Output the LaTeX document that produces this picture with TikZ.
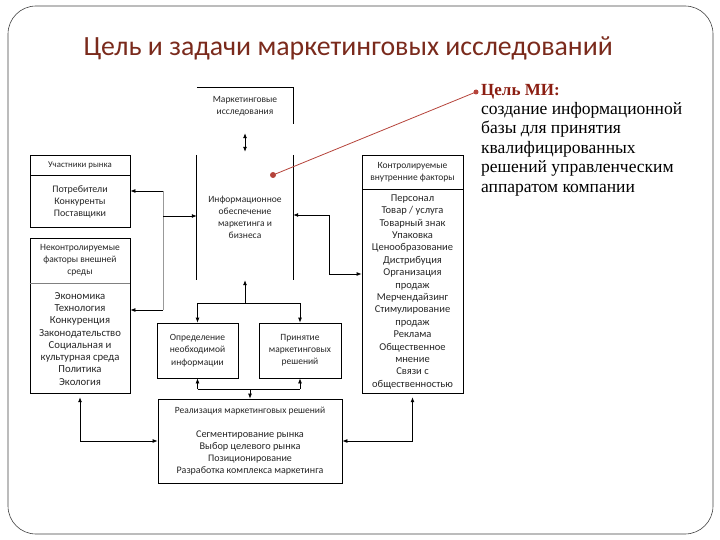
\documentclass[tikz,border=0pt]{standalone}
\usepackage{fontspec}
\setmainfont{Carlito}
\newfontfamily\goalfont{Liberation Serif}
\usetikzlibrary{arrows.meta}

\definecolor{titlered}{HTML}{7A2A1C}
\definecolor{goalred}{HTML}{8B1E12}
\definecolor{pinred}{HTML}{B5433A}

\tikzset{
  >={Latex[length=5pt,width=4pt]},
  box/.style={draw, line width=0.8pt, align=center, inner sep=0pt,
    font=\fontsize{9.5}{12.2}\selectfont, text=black!85},
  plain/.style={align=center, inner sep=0pt,
    font=\fontsize{9.5}{12.2}\selectfont, text=black!85},
  bigtext/.style={font=\fontsize{10.7}{12.3}\selectfont},
  link/.style={line width=0.8pt}
}

\begin{document}
\begin{tikzpicture}[x=1pt,y=-1pt]
\useasboundingbox (0,0) rectangle (720,540);

% --- SLIDE ---
 % frame
  \draw[black!75, line width=0.6pt, rounded corners=28pt] (8,6) rectangle (713,534);

  % title
  \node[anchor=west, text=titlered, font=\fontsize{27.8}{32}\selectfont] (title) at (80,48)
    {Цель и задачи маркетинговых исследований};

% --- DIAGRAM ---
 % top box and centre
  \node[plain, minimum width=96pt, minimum height=36pt] (mi) at (245,106)
    {Маркетинговые\\исследования};
  \draw[link] (mi.north west) -- (mi.north east) -- (mi.south east);

  \node[plain, minimum width=96pt, minimum height=125pt] (info) at (245,217.5)
    {Информационное\\обеспечение\\маркетинга и\\бизнеса};
  \draw[link] (info.north west) -- (info.south west);
  \draw[link] (info.north east) -- (info.south east);

  % market players
  \node[box, minimum width=100pt, minimum height=20pt, font=\fontsize{8.8}{11}\selectfont] (uchh) at (80,165)
    {Участники рынка};
  \node[box, minimum width=100pt, minimum height=52pt, anchor=north, font=\fontsize{10}{12}\selectfont]
    (uchb) at (uchh.south) {Потребители\\Конкуренты\\Поставщики};

  % external factors
  \node[box, minimum width=100pt, minimum height=45pt] (vneshh) at (80,260.5)
    {Неконтролируемые\\факторы внешней\\среды};
  \node[box, bigtext, minimum width=100pt, minimum height=110pt, anchor=north] (vneshb) at (vneshh.south)
    {Экономика\\Технология\\Конкуренция\\Законодательство\\Социальная и\\культурная среда\\Политика\\Экология};
  \draw[gray, line width=1.8pt] (vneshh.south west) -- (vneshh.south east);

  % internal factors
  \node[box, minimum width=101pt, minimum height=34pt] (kontrh) at (412.5,172)
    {Контролируемые\\внутренние факторы};
  \node[box, bigtext, minimum width=101pt, minimum height=204pt, anchor=north,
    font=\fontsize{10.5}{12.4}\selectfont] (kontrb) at (kontrh.south)
    {Персонал\\Товар / услуга\\Товарный знак\\Упаковка\\Ценообразование\\Дистрибуция\\Организация\\продаж\\Мерчендайзинг\\Стимулирование\\продаж\\Реклама\\Общественное\\мнение\\Связи с\\общественностью};

  % decisions
  \node[box, minimum width=81pt, minimum height=55pt] (opr) at (197.5,350.5)
    {Определение\\необходимой\\информации};
  \node[box, minimum width=82pt, minimum height=55pt] (prin) at (300,350.5)
    {Принятие\\маркетинговых\\решений};

  \node[box, minimum width=184pt, minimum height=84pt] (real) at (250,441)
    {Реализация маркетинговых решений\\[12pt]{\fontsize{10.3}{12.2}\selectfont Сегментирование рынка}\\
     {\fontsize{10.3}{12.2}\selectfont Выбор целевого рынка}\\{\fontsize{10}{12.2}\selectfont Позиционирование}\\
     {\fontsize{10}{12.2}\selectfont Разработка комплекса маркетинга}};

 % connectors
  \draw[link, <->, shorten <=9pt, shorten >=3pt] (mi.south) -- (info.north);

  \coordinate (ltop) at (163,191);
  \coordinate (lmid) at (163,216);
  \coordinate (lbot) at (163,310);
  \draw[gray!80, line width=0.8pt] (ltop) -- (lbot);
  \draw[link, ->] (ltop) -- (ltop -| uchb.east);
  \draw[link, ->] (lbot) -- (lbot -| vneshb.east);
  \draw[link, ->] (lmid) -- (lmid -| info.west);

  \coordinate (rtop) at (329,215);
  \coordinate (rbot) at (329,274);
  \draw[link, <->] (rtop -| info.east) -- (rtop) -- (rbot) -- (rbot -| kontrb.west);

  \coordinate (ibus) at (245,303);
  \draw[link, ->] (ibus) -- (info.south);
  \draw[link] (opr.north |- ibus) -- (prin.north |- ibus);
  \draw[link, ->] (opr.north |- ibus) -- (opr.north);
  \draw[link, ->] (prin.north |- ibus) -- (prin.north);

  \coordinate (dbus) at (250,389);
  \draw[link] (opr.south |- dbus) -- (prin.south |- dbus);
  \draw[link, ->] (opr.south |- dbus) -- (opr.south);
  \draw[link, ->] (prin.south |- dbus) -- (prin.south);
  \draw[link, ->] (dbus) -- (real.north);

  \draw[link, <->, shorten <=3pt] (vneshb.south) -- (vneshb.south |- real.west) -- (real.west);
  \draw[link, <->, shorten <=3pt] (kontrb.south) -- (kontrb.south |- real.east) -- (real.east);

% --- GOAL ---
  \node[anchor=west, inner sep=0pt, text=goalred, font=\goalfont\bfseries\fontsize{17}{20}\selectfont]
    (goal) at (481,92) {Цель МИ:};
  \node[anchor=north west, inner sep=0pt, align=left,
    font=\goalfont\fontsize{17.5}{19.5}\selectfont] (goaltext) at (481,102)
    {создание информационной\\базы для принятия\\квалифицированных\\решений управленческим\\аппаратом компании};

  % pointer
  \coordinate (pinA) at (273,175);
  \coordinate (pinB) at (476,92);
  \draw[pinred, line width=0.8pt] (pinA) -- (pinB);
  \fill[pinred] (pinA) circle (3pt);
  \fill[pinred] (pinB) circle (2.5pt);
\end{tikzpicture}
\end{document}
